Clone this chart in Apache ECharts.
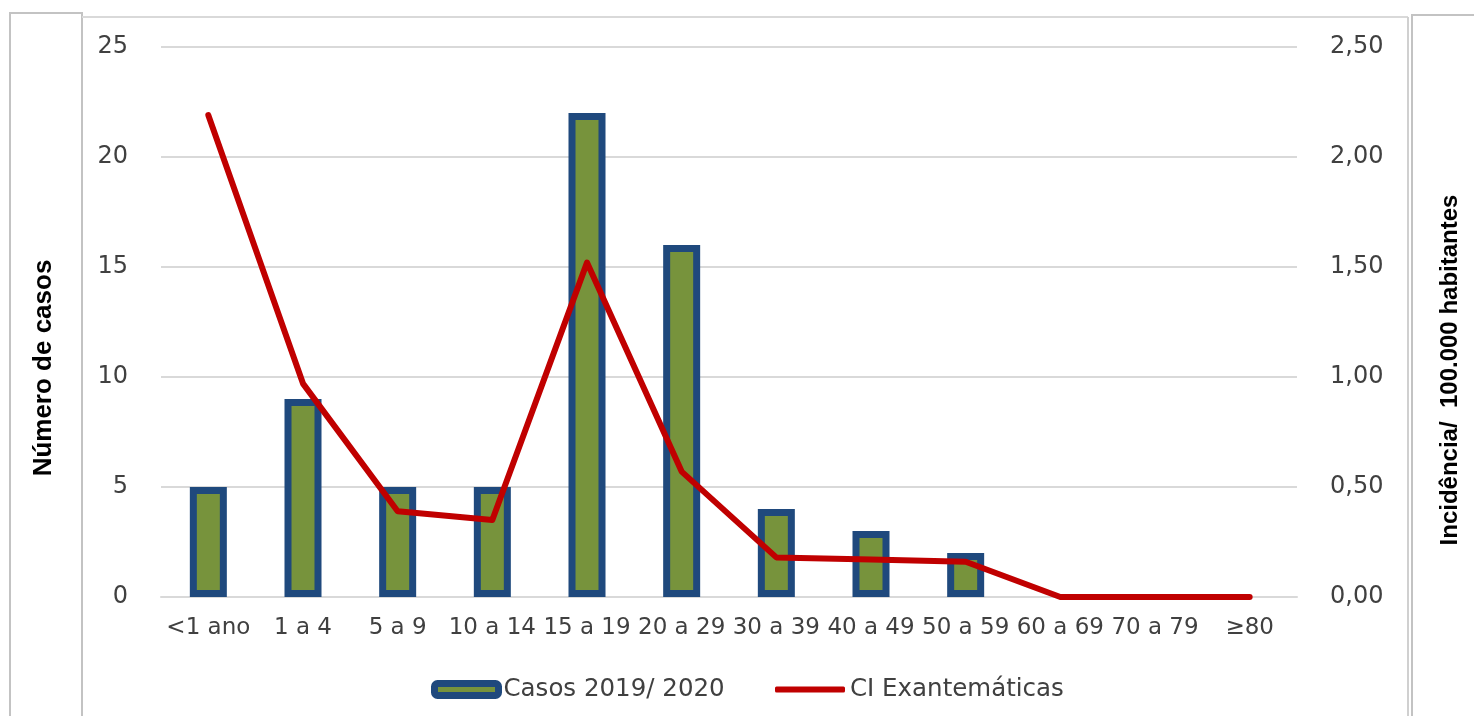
<!DOCTYPE html>
<html>
<head>
<meta charset="utf-8">
<script src="https://cdn.jsdelivr.net/npm/echarts@6/dist/echarts.min.js"></script>
<style>
html,body{margin:0;padding:0;background:#fff;}
#chart{width:1474px;height:716px;}
</style>
</head>
<body>
<div id="chart"></div>
<script>
const categories = ['<1 ano','1 a 4','5 a 9','10 a 14','15 a 19','20 a 29','30 a 39','40 a 49','50 a 59','60 a 69','70 a 79','≥80'];
const casos = [5, 9, 5, 5, 22, 16, 4, 3, 2, 0, 0, 0];
const incidencia = [2.19, 0.97, 0.39, 0.35, 1.52, 0.57, 0.18, 0.17, 0.16, 0, 0, 0];
const leftTicks = {min: 0, max: 25, interval: 5};
const rightTicks = {min: 0, max: 2.5, interval: 0.5};

const chart = echarts.init(document.getElementById('chart'));
const txt = '#404040';
const frame = '#c3c3c3';
const font = "'DejaVu Sans'";
chart.setOption({
  animation: false,
  backgroundColor: '#fff',
  grid: {left: 161, right: 177, top: 47, bottom: 119, containLabel: false},
  legend: [
    {
      data: [{name: 'Casos 2019/ 2020', icon: 'roundRect'}],
      left: 426, top: 672, itemWidth: 64, itemHeight: 12, itemGap: 0,
      textStyle: {fontFamily: font, fontSize: 24.5, color: txt},
      itemStyle: {color: '#77933C', borderColor: '#1F497D', borderWidth: 7}
    },
    {
      data: [{name: 'CI Exantemáticas', icon: 'roundRect'}],
      left: 770, top: 672, itemWidth: 70, itemHeight: 6,
      textStyle: {fontFamily: font, fontSize: 24.5, color: txt},
      itemStyle: {color: '#C00000', borderWidth: 0}
    }
  ],
  xAxis: {
    type: 'category',
    data: categories,
    axisTick: {show: false},
    axisLine: {show: true, lineStyle: {color: '#d9d9d9', width: 2}},
    axisLabel: {interval: 0, margin: 20, color: txt, fontFamily: font, fontSize: 23}
  },
  yAxis: [
    {
      type: 'value', min: leftTicks.min, max: leftTicks.max, interval: leftTicks.interval,
      axisLine: {show: false}, axisTick: {show: false},
      splitLine: {lineStyle: {color: '#d9d9d9', width: 2}},
      axisLabel: {margin: 33, color: txt, fontFamily: font, fontSize: 24}
    },
    {
      type: 'value', min: rightTicks.min, max: rightTicks.max, interval: rightTicks.interval,
      axisLine: {show: false}, axisTick: {show: false},
      splitLine: {show: false},
      axisLabel: {margin: 33, color: txt, fontFamily: font, fontSize: 24,
        formatter: v => v.toFixed(2).replace('.', ',')}
    }
  ],
  series: [
    {
      name: 'Casos 2019/ 2020', type: 'bar', yAxisIndex: 0,
      data: casos.map(v => (v === 0 ? '-' : v)),
      barWidth: 37,
      itemStyle: {color: '#77933C', borderColor: '#1F497D', borderWidth: 7}
    },
    {
      name: 'CI Exantemáticas', type: 'line', data: incidencia, yAxisIndex: 1,
      symbol: 'none', showSymbol: false,
      itemStyle: {color: '#C00000'},
      lineStyle: {color: '#C00000', width: 6, cap: 'round', join: 'round'}
    }
  ],
  graphic: [
    {type: 'polyline', silent: true, shape: {points: [[10, 716], [10, 13], [82, 13], [82, 716]]}, style: {stroke: frame, lineWidth: 2, fill: null}},
    {type: 'line', silent: true, shape: {x1: 82, y1: 17, x2: 1408, y2: 17}, style: {stroke: '#d9d9d9', lineWidth: 2}},
    {type: 'line', silent: true, shape: {x1: 1408, y1: 17, x2: 1408, y2: 716}, style: {stroke: '#d0d0d0', lineWidth: 2}},
    {type: 'polyline', silent: true, shape: {points: [[1412, 716], [1412, 15], [1474, 15]]}, style: {stroke: frame, lineWidth: 2, fill: null}},
    {type: 'text', silent: true, x: 44, y: 368, rotation: Math.PI / 2,
      style: {text: 'Número de casos', fontFamily: 'Liberation Sans', fontWeight: 'bold', fontSize: 26, fill: '#000', align: 'center', verticalAlign: 'middle'}},
    {type: 'text', silent: true, x: 1450, y: 370, rotation: Math.PI / 2,
      style: {text: 'Incidência/  100.000 habitantes', fontFamily: 'Liberation Sans', fontWeight: 'bold', fontSize: 24, fill: '#000', align: 'center', verticalAlign: 'middle'}}
  ]
});
</script>
</body>
</html>
